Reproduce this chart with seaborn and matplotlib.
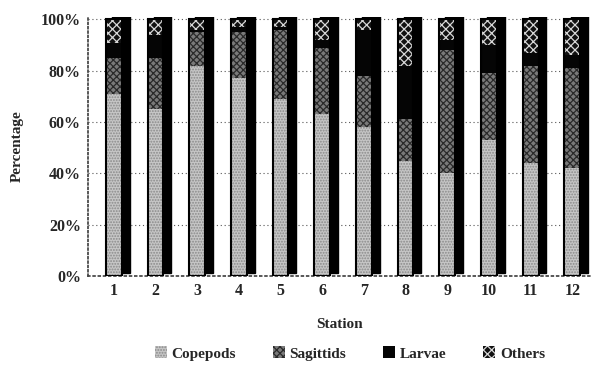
import numpy as np
import pandas as pd
import matplotlib
matplotlib.use("Agg")
import matplotlib.pyplot as plt
import matplotlib.transforms as mtransforms
from matplotlib.patches import Patch
import seaborn as sns

# Composition (%) of zooplankton groups at each station
stations = [str(i) for i in range(1, 13)]
copepods = [71, 65, 82, 77, 69, 63, 58, 45, 40, 53, 44, 42]
sagittids = [14, 20, 13, 18, 27, 26, 20, 16, 48, 26, 38, 39]
larvae = [6, 9, 1, 2, 1, 3, 18, 21, 4, 11, 5, 5]
others = [9, 6, 4, 3, 3, 8, 4, 18, 8, 10, 13, 14]
y_ticks = [0, 20, 40, 60, 80, 100]

groups = ["Copepods", "Sagittids", "Larvae", "Others"]
df = pd.DataFrame({"Station": stations, "Copepods": copepods,
                   "Sagittids": sagittids, "Larvae": larvae, "Others": others})
df["Total"] = df[groups].sum(axis=1)

sns.set_theme(style="white")
plt.rcParams["font.family"] = ["Liberation Serif", "DejaVu Serif"]
plt.rcParams["font.weight"] = "bold"
plt.rcParams["hatch.linewidth"] = 0.9

fig = plt.figure(figsize=(5.98, 3.67), dpi=100)
ax = fig.add_axes([0.147, 0.248, 0.840, 0.706])

styles = {
    "Copepods": dict(color="#c6c6c6", hatch="......", edge="#8a8a8a"),
    "Sagittids": dict(color="#7a7a7a", hatch="xxxxx", edge="#2a2a2a"),
    "Larvae": dict(color="#050505", hatch=None, edge="#050505"),
    "Others": dict(color="#111111", hatch="xxxx", edge="#d8d8d8"),
}

width = 0.38
# dark side / depth of each column, shifted right and up
shadow_tf = ax.transData + mtransforms.ScaledTranslation(7 / 100, 3 / 100, fig.dpi_scale_trans)
sns.barplot(data=df, x="Station", y="Total", color="black", width=width + 0.04,
            ax=ax, saturation=1, zorder=2)
for p in ax.patches:
    p.set_transform(shadow_tf)
    p.set_edgecolor("black")

bottom = np.zeros(len(df))
for g in groups:
    st = styles[g]
    sns.barplot(data=df, x="Station", y=g, bottom=bottom, color=st["color"],
                width=width, ax=ax, saturation=1, zorder=3,
                hatch=st["hatch"], edgecolor=st["edge"], linewidth=0)
    bottom = bottom + df[g].values

# black outline around each front face
sns.barplot(data=df, x="Station", y="Total", width=width, ax=ax, fill=False,
            edgecolor="black", linewidth=1.5, zorder=4)

ax.set_xlim(-0.62, 11.43)
ax.set_ylim(0, 101)
ax.set_yticks(y_ticks)
ax.set_yticklabels([f"{v}%" for v in y_ticks])
ax.yaxis.grid(True, linestyle=(0, (1, 2.5)), color="#555555", linewidth=0.8)
ax.set_axisbelow(True)
for side in ["top", "right"]:
    ax.spines[side].set_visible(False)
ax.spines["left"].set_linestyle((0, (1, 1.5)))
ax.spines["bottom"].set_linestyle((0, (1, 2)))
ax.spines["left"].set_color("#444444")
ax.spines["bottom"].set_color("#444444")
ax.tick_params(axis="both", labelsize=11.5, length=0, pad=5)
for lbl in ax.get_xticklabels() + ax.get_yticklabels():
    lbl.set_fontweight("bold")

ax.set_xlabel("Station", fontsize=11, fontweight="bold", labelpad=14)
ax.set_ylabel("Percentage", fontsize=11, fontweight="bold", labelpad=12)

handles = [Patch(facecolor=styles[g]["color"], hatch=styles[g]["hatch"],
                 edgecolor=styles[g]["edge"], linewidth=0) for g in groups]
fig.legend(handles, groups, loc="lower center", bbox_to_anchor=(0.585, -0.02),
           ncol=4, frameon=False, fontsize=11, columnspacing=2.4,
           handlelength=0.8, handleheight=0.8, handletextpad=0.3)

fig.savefig("out.png", dpi=100)
